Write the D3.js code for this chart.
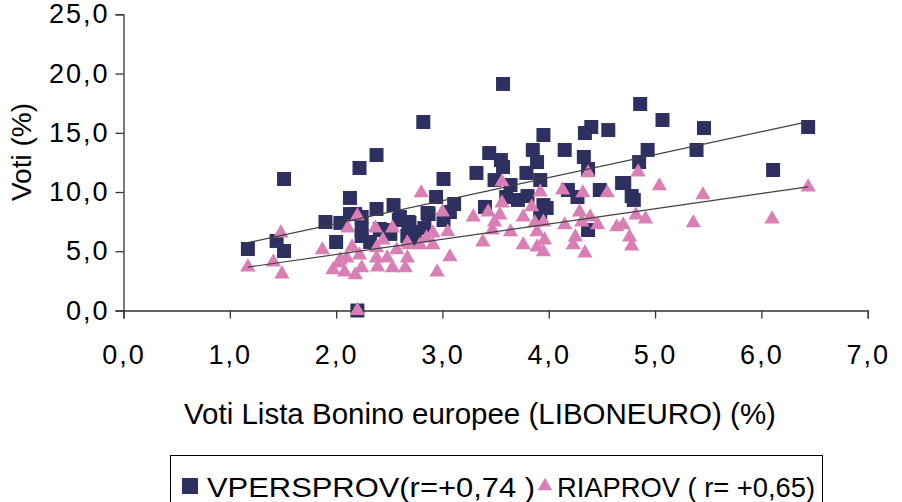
<!DOCTYPE html>
<html>
<head>
<meta charset="utf-8">
<script src="https://cdn.jsdelivr.net/npm/d3@7"></script>
<style>
  html, body { margin: 0; padding: 0; background: #fff; }
  svg { display: block; }
  text { font-family: "Liberation Sans", Arial, sans-serif; fill: #000; }
</style>
</head>
<body>
<div id="chart"></div>
<script>
// VPERSPROV (squares)
const persX = [1.17, 1.44, 1.51, 1.51, 2.13, 2.22, 2.38, 2.82, 2.38, 2.54,
  1.90, 2.04, 2.13, 2.24, 2.60, 2.69, 2.86, 2.00, 2.24, 2.32,
  2.44, 2.67, 2.83, 2.20, 3.57, 3.95, 4.40, 4.34, 4.56, 3.44,
  3.55, 3.85, 3.89, 4.15, 4.33, 4.37, 3.32, 3.01, 3.57, 3.49,
  3.79, 3.92, 3.64, 4.48, 4.69, 4.18, 4.27, 3.80, 3.95, 3.60,
  3.40, 2.94, 3.11, 4.86, 5.07, 5.46, 6.44, 4.93, 5.39, 4.85,
  6.11, 4.71, 4.78, 4.80, 4.37, 2.87, 2.68, 2.71, 3.07, 3.71,
  3.98, 3.92, 2.59, 3.01, 2.41, 2.51, 2.24, 2.18, 2.74]
const persY = [5.19, 5.87, 5.02, 11.10, 9.50, 12.03, 13.12, 15.91, 8.57, 8.90,
  7.47, 7.39, 8.14, 7.89, 7.89, 7.39, 8.23, 5.78, 6.29, 5.78,
  6.79, 6.29, 6.96, 0.0, 19.12, 14.81, 15.49, 14.98, 15.23, 13.29,
  12.70, 13.55, 12.53, 13.55, 12.96, 11.94, 11.61, 11.10, 12.11, 11.01,
  11.61, 11.01, 10.59, 10.17, 10.76, 10.17, 9.58, 9.66, 8.90, 9.58,
  8.74, 9.58, 8.99, 17.43, 16.08, 15.40, 15.49, 13.55, 13.55, 12.53,
  11.86, 10.76, 9.66, 9.33, 6.79, 8.14, 7.47, 5.95, 8.31, 9.33,
  8.65, 7.89, 7.64, 7.64, 6.88, 6.46, 6.79, 8.14, 6.63]

// RIAPROV (triangles)
const riaX = [1.17, 1.41, 1.49, 1.48, 1.87, 2.11, 2.20, 2.37, 2.53, 2.80,
  2.15, 2.22, 2.02, 1.97, 2.08, 2.18, 2.24, 2.10, 2.44, 2.38,
  2.38, 2.48, 2.53, 2.65, 2.67, 2.67, 2.57, 2.79, 2.91, 2.20,
  3.00, 3.29, 3.43, 3.56, 3.56, 3.54, 3.49, 3.64, 3.47, 3.38,
  3.92, 3.84, 3.76, 3.87, 3.95, 3.89, 3.96, 3.89, 3.95, 3.76,
  4.13, 4.32, 4.37, 4.55, 4.29, 4.39, 4.46, 4.31, 4.15, 4.25,
  4.23, 4.34, 4.64, 3.05, 2.91, 2.85, 3.07, 2.95, 4.84, 5.04,
  5.45, 6.44, 4.82, 4.91, 4.70, 4.76, 4.78, 5.36, 6.10, 2.39,
  2.68, 2.04]
const riaY = [3.67, 4.09, 3.08, 6.54, 5.11, 6.96, 7.98, 6.96, 6.96, 9.92,
  5.36, 4.68, 4.01, 3.42, 3.25, 3.00, 3.59, 4.43, 5.95, 5.28,
  4.43, 4.43, 3.59, 3.59, 4.43, 5.70, 5.11, 5.53, 5.53, 0.0,
  8.31, 7.89, 8.31, 10.85, 9.07, 8.06, 7.47, 6.63, 6.79, 5.78,
  10.00, 8.74, 7.89, 7.39, 7.47, 6.63, 5.95, 5.36, 4.94, 5.53,
  10.17, 9.92, 11.61, 9.92, 8.31, 7.89, 7.22, 7.47, 7.22, 6.20,
  5.53, 4.85, 7.05, 6.63, 6.54, 6.12, 4.52, 3.25, 11.69, 10.51,
  9.75, 10.42, 8.06, 7.72, 7.22, 6.20, 5.44, 7.39, 7.72, 3.67,
  5.53, 4.26]

const xTicks = [0, 1, 2, 3, 4, 5, 6, 7]
const yTicks = [0, 5, 10, 15, 20, 25]
const legendLabels = ['VPERSPROV(r=+0,74 )', 'RIAPROV ( r=  +0,65)']

const width = 902
const height = 502
const navy = '#2e3060'
const pink = '#d97fb6'

const x = d3.scaleLinear().domain([0, 7]).range([123.5, 867.7])
const y = d3.scaleLinear().domain([0, 25]).range([310.5, 14.3])

const fmt = v => d3.format('.1f')(v).replace('.', ',')

const svg = d3.select('#chart')
  .append('svg')
  .attr('width', width)
  .attr('height', height)

svg.append('rect')
  .attr('width', width)
  .attr('height', height)
  .attr('fill', '#fff')

// axes
const xAxis = svg.append('g')
  .attr('transform', `translate(0,${y(0)})`)
  .call(d3.axisBottom(x).tickValues(xTicks).tickFormat(fmt).tickSize(8).tickPadding(26))
const yAxis = svg.append('g')
  .attr('transform', `translate(${x(0)},0)`)
  .call(d3.axisLeft(y).tickValues(yTicks).tickFormat(fmt).tickSize(8).tickPadding(6))

for (const ax of [xAxis, yAxis]) {
  ax.select('.domain').attr('stroke', '#333').attr('stroke-width', 1.3)
  ax.selectAll('.tick line').attr('stroke', '#333').attr('stroke-width', 1.3)
  ax.selectAll('.tick text')
    .attr('font-size', 27)
    .attr('font-family', '"Liberation Sans", Arial, sans-serif')
    .attr('letter-spacing', 2)
    .attr('fill', '#000')
}

// series
const pers = persX.map((v, i) => [v, persY[i]])
const ria = riaX.map((v, i) => [v, riaY[i]])

svg.append('g')
  .selectAll('path')
  .data(pers)
  .join('path')
  .attr('transform', d => `translate(${x(d[0])},${y(d[1])})`)
  .attr('d', d3.symbol(d3.symbolSquare, 196))
  .attr('fill', navy)

svg.append('g')
  .selectAll('path')
  .data(ria)
  .join('path')
  .attr('transform', d => `translate(${x(d[0])},${y(d[1])})`)
  .attr('d', d3.symbol(d3.symbolTriangle, 100))
  .attr('fill', pink)

// linear trend lines
function trend(pts) {
  const mx = d3.mean(pts, d => d[0])
  const my = d3.mean(pts, d => d[1])
  const b = d3.sum(pts, d => (d[0] - mx) * (d[1] - my)) / d3.sum(pts, d => (d[0] - mx) ** 2)
  const a = my - b * mx
  const [x0, x1] = d3.extent(pts, d => d[0])
  return [[x0, a + b * x0], [x1, a + b * x1]]
}

const line = d3.line().x(d => x(d[0])).y(d => y(d[1]))
svg.append('g')
  .selectAll('path')
  .data([trend(pers), trend(ria)])
  .join('path')
  .attr('d', line)
  .attr('fill', 'none')
  .attr('stroke', '#404040')
  .attr('stroke-width', 1.2)

// axis titles
svg.append('text')
  .attr('x', 480)
  .attr('y', 424)
  .attr('text-anchor', 'middle')
  .attr('font-size', 29.5)
  .text('Voti Lista Bonino europee (LIBONEURO) (%)')

svg.append('text')
  .attr('transform', 'translate(31,152) rotate(-90)')
  .attr('text-anchor', 'middle')
  .attr('font-size', 28)
  .text('Voti (%)')

// legend
const legend = svg.append('g')
legend.append('rect')
  .attr('x', 170.5)
  .attr('y', 455.5)
  .attr('width', 652)
  .attr('height', 70)
  .attr('fill', '#fff')
  .attr('stroke', '#000')
  .attr('stroke-width', 1)

legend.append('path')
  .attr('transform', 'translate(190,486)')
  .attr('d', d3.symbol(d3.symbolSquare, 256))
  .attr('fill', navy)
legend.append('text')
  .attr('x', 207)
  .attr('y', 497)
  .attr('font-size', 28)
  .attr('textLength', 328)
  .attr('lengthAdjust', 'spacingAndGlyphs')
  .text(legendLabels[0])

legend.append('path')
  .attr('transform', 'translate(545,486)')
  .attr('d', d3.symbol(d3.symbolTriangle, 90))
  .attr('fill', pink)
legend.append('text')
  .attr('x', 557)
  .attr('y', 497)
  .attr('font-size', 28)
  .attr('textLength', 258)
  .attr('lengthAdjust', 'spacingAndGlyphs')
  .text(legendLabels[1])
</script>
</body>
</html>
